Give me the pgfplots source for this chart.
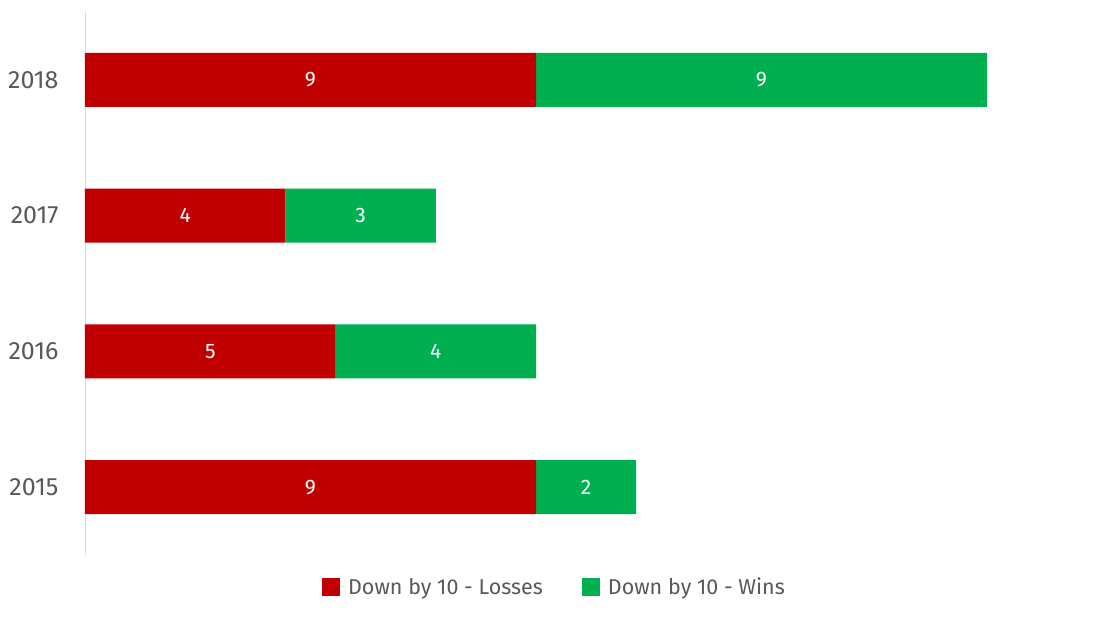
\documentclass[border=0pt]{standalone}
\usepackage{pgfplots}
\pgfplotsset{compat=1.18}
\usepackage{fontspec}
\setmainfont{Fira Sans}
\definecolor{lossred}{HTML}{C00000}
\definecolor{wingreen}{HTML}{00B050}
\definecolor{txtgray}{HTML}{595959}
\definecolor{axgray}{HTML}{D9D9D9}
\begin{document}
\begin{tikzpicture}
\useasboundingbox (0,0) rectangle (1100pt,619pt);
\begin{axis}[
  at={(85pt,64pt)}, anchor=south west,
  scale only axis, width=902pt, height=543pt,
  xbar stacked, bar width=54pt,
  xmin=0, xmax=18, ymin=-0.5, ymax=3.5,
  axis x line=none, axis y line=left,
  y axis line style={-, draw=axgray, line width=0.8pt},
  ytick={0,1,2,3}, yticklabels={2015,2016,2017,2018},
  major tick length=0pt,
  yticklabel style={font=\fontsize{25}{30}\selectfont, text=txtgray, xshift=-23pt},
  nodes near coords={\pgfmathprintnumber[assume math mode=true]{\pgfplotspointmeta}},
  point meta=rawx,
  every node near coord/.append style={anchor=center, text=white, font=\fontsize{21}{25}\selectfont},
  legend style={at={(0.5205,-0.0589)}, anchor=center, draw=none, legend columns=2,
    font=\fontsize{21.5}{26}\selectfont, text=txtgray,
    /tikz/every even column/.append style={column sep=37pt}},
  legend image code/.code={\fill[#1] (0pt,-9pt) rectangle (18pt,9pt); \path (0pt,0pt) -- (24pt,0pt);},
]
\addplot[fill=lossred, draw=none] coordinates {(9,0) (5,1) (4,2) (9,3)};
\addplot[fill=wingreen, draw=none] coordinates {(2,0) (4,1) (3,2) (9,3)};
\legend{Down by 10 - Losses, Down by 10 - Wins}
\end{axis}
\end{tikzpicture}
\end{document}
